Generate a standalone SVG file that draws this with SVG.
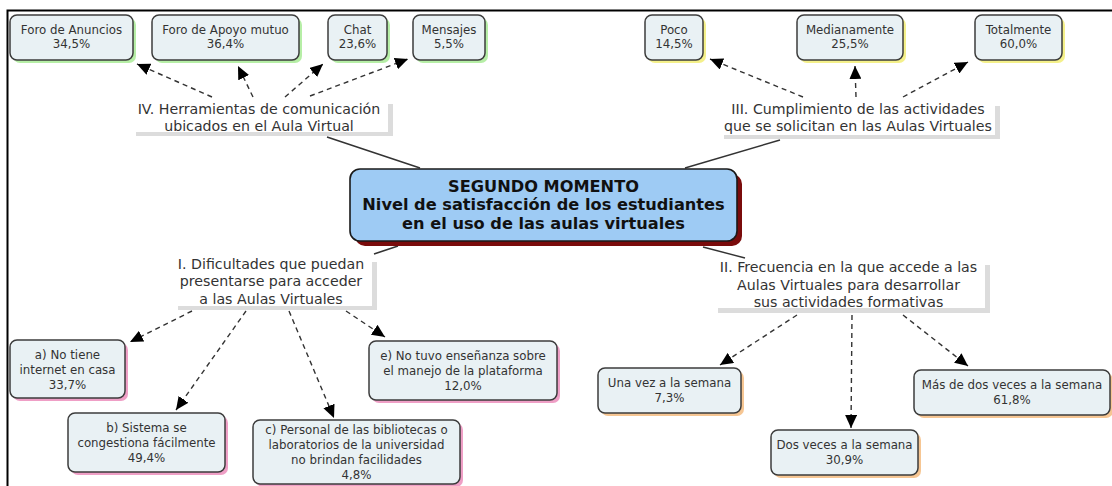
<svg xmlns="http://www.w3.org/2000/svg" width="1112" height="486" viewBox="0 0 1112 486">
<defs>
<style>
.node{fill:#e9f1f4;stroke:#3c3c3c;stroke-width:1.5}
.sh-g{fill:#b6eea6}
.sh-y{fill:#f4f08a}
.sh-p{fill:#ef9fc6}
.sh-o{fill:#f6c693}
.nt{font-family:"DejaVu Sans","Liberation Sans",sans-serif;font-size:11.8px;fill:#333;text-anchor:middle}
.lt{font-family:"DejaVu Sans","Liberation Sans",sans-serif;font-size:14.2px;fill:#333;text-anchor:middle}
.ct{font-family:"DejaVu Sans","Liberation Sans",sans-serif;font-size:16.2px;font-weight:bold;fill:#111;text-anchor:middle}
.lbg{fill:#fff}
.lsh{fill:#dcdcdc}
.solid{stroke:#333;stroke-width:1.4;fill:none}
.dash{stroke:#333;stroke-width:1.4;fill:none;stroke-dasharray:5 4;marker-end:url(#ah)}
</style>
<marker id="ah" markerUnits="userSpaceOnUse" markerWidth="14" markerHeight="12" refX="13" refY="6" orient="auto">
<path d="M0,0 L13,6 L0,12 Z" fill="#000"/>
</marker>
</defs>
<rect x="0" y="0" width="1112" height="486" fill="#fff"/>
<g id="frame">
<path d="M7.5,486 V10.5 H1112" stroke="#000" stroke-width="2" fill="none"/>
</g>

<g id="connectors">
<path class="solid" d="M327,137 L420,168"/>
<path class="solid" d="M780,140 L685,168"/>
<path class="solid" d="M374,254 L398,246"/>
<path class="solid" d="M703,247 L745,258"/>
<path class="dash" d="M212,97 L137,64"/>
<path class="dash" d="M253,97 L238,66"/>
<path class="dash" d="M285,97 L323,64"/>
<path class="dash" d="M310,96 L408,59"/>
<path class="dash" d="M803,97 L710,59"/>
<path class="dash" d="M856,97 L855,66"/>
<path class="dash" d="M903,97 L968,62"/>
<path class="dash" d="M192,311 L130,342"/>
<path class="dash" d="M246,311 L176,410"/>
<path class="dash" d="M289,311 L334,418"/>
<path class="dash" d="M346,311 L385,337"/>
<path class="dash" d="M797,315 L720,365"/>
<path class="dash" d="M852,315 L851,428"/>
<path class="dash" d="M903,315 L968,366"/>
</g>

<g id="n-central">
<rect x="355" y="174" width="387" height="72" rx="10" fill="#7a0b0b"/>
<rect x="350" y="169" width="387" height="72" rx="10" fill="#9ecbf4" stroke="#1a1a1a" stroke-width="1.6"/>
<text class="ct" x="543.5" y="191.5">SEGUNDO MOMENTO</text>
<text class="ct" x="543.5" y="210">Nivel de satisfacción de los estudiantes</text>
<text class="ct" x="543.5" y="228.5">en el uso de las aulas virtuales</text>
</g>

<g id="l-iv">
<rect class="lsh" x="136" y="104" width="257" height="32"/>
<rect class="lbg" x="130" y="98" width="258" height="34"/>
<text class="lt" x="259" y="113.5">IV. Herramientas de comunicación</text>
<text class="lt" x="259" y="130.5">ubicados en el Aula Virtual</text>
</g>

<g id="l-iii">
<rect class="lsh" x="724" y="106" width="276" height="33"/>
<rect class="lbg" x="718" y="100" width="277" height="35"/>
<text class="lt" x="858" y="114">III. Cumplimiento de las actividades</text>
<text class="lt" x="858" y="131">que se solicitan en las Aulas Virtuales</text>
</g>

<g id="l-i">
<rect class="lsh" x="178" y="262" width="199" height="48"/>
<rect class="lbg" x="172" y="255" width="200" height="51"/>
<text class="lt" x="271" y="268.5">I. Dificultades que puedan</text>
<text class="lt" x="271" y="286">presentarse para acceder</text>
<text class="lt" x="271" y="303.5">a las Aulas Virtuales</text>
</g>

<g id="l-ii">
<rect class="lsh" x="718" y="265" width="272" height="48"/>
<rect class="lbg" x="712" y="259" width="273" height="49"/>
<text class="lt" x="848.5" y="272">II. Frecuencia en la que accede a las</text>
<text class="lt" x="848.5" y="289.5">Aulas Virtuales para desarrollar</text>
<text class="lt" x="848.5" y="307">sus actividades formativas</text>
</g>

<g id="n-foro-anuncios">
<rect class="sh-g" x="13" y="18" width="123" height="45" rx="7"/>
<rect class="node" x="10" y="15" width="123" height="45" rx="7"/>
<text class="nt" x="71.5" y="33.5">Foro de Anuncios</text>
<text class="nt" x="71.5" y="48">34,5%</text>
</g>
<g id="n-foro-apoyo">
<rect class="sh-g" x="155" y="18" width="147" height="45" rx="7"/>
<rect class="node" x="152" y="15" width="147" height="45" rx="7"/>
<text class="nt" x="225.5" y="33.5">Foro de Apoyo mutuo</text>
<text class="nt" x="225.5" y="48">36,4%</text>
</g>
<g id="n-chat">
<rect class="sh-g" x="331" y="18" width="59" height="45" rx="7"/>
<rect class="node" x="328" y="15" width="59" height="45" rx="7"/>
<text class="nt" x="357.5" y="33.5">Chat</text>
<text class="nt" x="357.5" y="48">23,6%</text>
</g>
<g id="n-mensajes">
<rect class="sh-g" x="416" y="18" width="72" height="45" rx="7"/>
<rect class="node" x="413" y="15" width="72" height="45" rx="7"/>
<text class="nt" x="449" y="33.5">Mensajes</text>
<text class="nt" x="449" y="48">5,5%</text>
</g>

<g id="n-poco">
<rect class="sh-y" x="648" y="18" width="58" height="45" rx="7"/>
<rect class="node" x="645" y="15" width="58" height="45" rx="7"/>
<text class="nt" x="674" y="33.5">Poco</text>
<text class="nt" x="674" y="48">14,5%</text>
</g>
<g id="n-medianamente">
<rect class="sh-y" x="800" y="18" width="106" height="45" rx="7"/>
<rect class="node" x="797" y="15" width="106" height="45" rx="7"/>
<text class="nt" x="850" y="33.5">Medianamente</text>
<text class="nt" x="850" y="48">25,5%</text>
</g>
<g id="n-totalmente">
<rect class="sh-y" x="978" y="18" width="87" height="45" rx="7"/>
<rect class="node" x="975" y="15" width="87" height="45" rx="7"/>
<text class="nt" x="1018.5" y="33.5">Totalmente</text>
<text class="nt" x="1018.5" y="48">60,0%</text>
</g>

<g id="n-a">
<rect class="sh-p" x="13" y="343" width="115" height="58" rx="7"/>
<rect class="node" x="10" y="340" width="115" height="58" rx="7"/>
<text class="nt" x="67.5" y="359">a) No tiene</text>
<text class="nt" x="67.5" y="374">internet en casa</text>
<text class="nt" x="67.5" y="389">33,7%</text>
</g>
<g id="n-b">
<rect class="sh-p" x="71" y="416" width="157" height="59" rx="7"/>
<rect class="node" x="68" y="413" width="157" height="59" rx="7"/>
<text class="nt" x="146.5" y="432">b) Sistema se</text>
<text class="nt" x="146.5" y="447">congestiona fácilmente</text>
<text class="nt" x="146.5" y="462">49,4%</text>
</g>
<g id="n-c">
<rect class="sh-p" x="256" y="423" width="207" height="64" rx="7"/>
<rect class="node" x="253" y="420" width="207" height="64" rx="7"/>
<text class="nt" x="356.5" y="434">c) Personal de las bibliotecas o</text>
<text class="nt" x="356.5" y="449">laboratorios de la universidad</text>
<text class="nt" x="356.5" y="464">no brindan facilidades</text>
<text class="nt" x="356.5" y="479">4,8%</text>
</g>
<g id="n-e">
<rect class="sh-p" x="372" y="344" width="188" height="59" rx="7"/>
<rect class="node" x="369" y="341" width="188" height="59" rx="7"/>
<text class="nt" x="463" y="360">e) No tuvo enseñanza sobre</text>
<text class="nt" x="463" y="375">el manejo de la plataforma</text>
<text class="nt" x="463" y="390">12,0%</text>
</g>

<g id="n-una-vez">
<rect class="sh-o" x="601" y="371" width="143" height="45" rx="7"/>
<rect class="node" x="598" y="368" width="143" height="45" rx="7"/>
<text class="nt" x="669.5" y="387">Una vez a la semana</text>
<text class="nt" x="669.5" y="402">7,3%</text>
</g>
<g id="n-dos-veces">
<rect class="sh-o" x="774" y="433" width="147" height="45" rx="7"/>
<rect class="node" x="771" y="430" width="147" height="45" rx="7"/>
<text class="nt" x="844.5" y="449">Dos veces a la semana</text>
<text class="nt" x="844.5" y="464">30,9%</text>
</g>
<g id="n-mas-dos">
<rect class="sh-o" x="917" y="373" width="196" height="45" rx="7"/>
<rect class="node" x="914" y="370" width="196" height="45" rx="7"/>
<text class="nt" x="1012" y="389">Más de dos veces a la semana</text>
<text class="nt" x="1012" y="404">61,8%</text>
</g>
</svg>
